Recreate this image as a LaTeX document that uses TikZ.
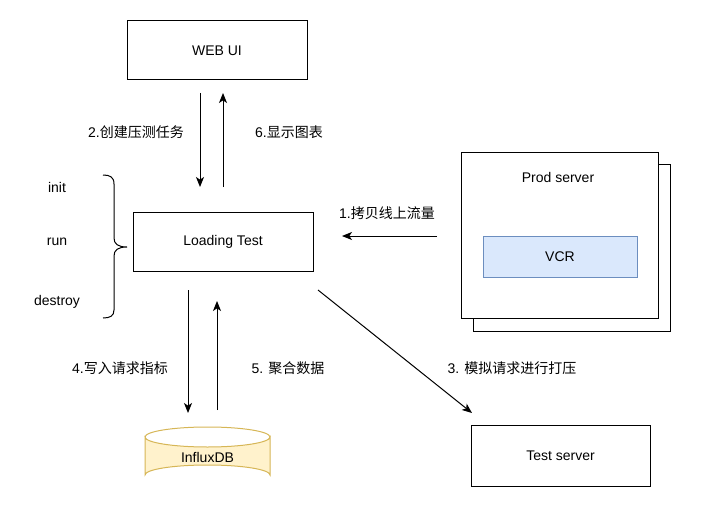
\documentclass[tikz,border=0pt]{standalone}
\usepackage{fontspec}
\setmainfont{Liberation Sans}
\newfontfamily\cjk{Noto Sans CJK SC}
\usetikzlibrary{arrows.meta}
\tikzset{
  px/.style={x=0.75pt,y=-0.75pt},
  box/.style={draw=black,line width=0.75pt,fill=white,inner sep=0pt,font=\fontsize{10.5pt}{12pt}\selectfont},
  lbl/.style={inner sep=0pt,font=\fontsize{10.5pt}{12pt}\selectfont},
  arr/.style={line width=0.75pt,-{Stealth[length=7.5pt,width=6pt,inset=2pt]}},
}
\begin{document}
\begin{tikzpicture}[px]
\useasboundingbox (0,0) rectangle (707,528);
% boxes
\node[box,minimum width=135pt,minimum height=44.25pt] (web) at (217,50.5) {WEB UI};
\node[box,minimum width=135pt,minimum height=44.25pt] (lt) at (223,241.5) {Loading Test};
\node[box,minimum width=134.25pt,minimum height=45.75pt] (ts) at (560.5,455.5) {Test server};
% prod server stack
\node[box,minimum width=147.75pt,minimum height=125.25pt] (prodback) at (571.5,247.5) {};
\node[box,minimum width=147.75pt,minimum height=124.5pt] (prod) at (559.5,235) {};
\node[lbl] (prodlbl) at (558,177) {Prod server};
\node[box,draw={rgb,255:red,108;green,142;blue,191},fill={rgb,255:red,218;green,232;blue,252},minimum width=115.5pt,minimum height=30.75pt] (vcr) at (560,256.5) {VCR};
% cylinder
\definecolor{dbfill}{RGB}{255,242,204}
\definecolor{dbline}{RGB}{214,182,86}
\path[fill=dbfill,draw=dbline,line width=0.75pt] (145,437) -- (145,475) arc[start angle=180,end angle=360,x radius=62.5,y radius=10] -- (270,437) arc[start angle=0,end angle=180,x radius=62.5,y radius=10] -- cycle;
\draw[dbline,line width=0.75pt] (145,437) arc[start angle=180,end angle=360,x radius=62.5,y radius=10];
\node[lbl] (db) at (207.5,457) {InfluxDB};
% brace
\draw[line width=0.75pt] (103,175) .. controls (110,175) and (114,177) .. (114,184) -- (114,238) .. controls (114,244) and (118,247) .. (127,247) .. controls (118,247) and (114,250) .. (114,256) -- (114,310) .. controls (114,316) and (110,318) .. (103,318);
\node[lbl] (init) at (57,187) {init};
\node[lbl] (run) at (57,242) {run};
\node[lbl] (destroy) at (57,302) {destroy};
% connector end points
\coordinate (w1) at (200,93);
\coordinate (w2) at (200,187);
\coordinate (w3) at (223,187);
\coordinate (w4) at (223,93);
\coordinate (p1) at (437,236);
\coordinate (p2) at (342,236);
\coordinate (d1) at (188,290);
\coordinate (d2) at (188,413);
\coordinate (d3) at (217,410);
\coordinate (d4) at (217,301);
\coordinate (t1) at (318,290);
\coordinate (t2) at (472,413);
\draw[arr] (w1) -- (w2);
\draw[arr] (w3) -- (w4);
\draw[arr] (p1) -- (p2);
\draw[arr] (d1) -- (d2);
\draw[arr] (d3) -- (d4);
\draw[arr] (t1) -- (t2);
% labels
\node[lbl] (l2) at (136,132) {2.{\cjk 创建压测任务}};
\node[lbl] (l6) at (289,132) {6.{\cjk 显示图表}};
\node[lbl] (l1) at (387,213) {1.{\cjk 拷贝线上流量}};
\node[lbl] (l4) at (120,368) {4.{\cjk 写入请求指标}};
\node[lbl] (l5) at (288,368) {5. {\cjk 聚合数据}};
\node[lbl] (l3) at (512,368) {3. {\cjk 模拟请求进行打压}};
\end{tikzpicture}
\end{document}
